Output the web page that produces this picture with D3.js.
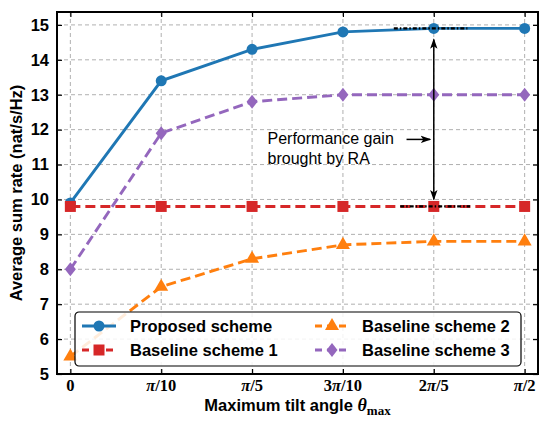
<!DOCTYPE html>
<html>
<head>
<meta charset="utf-8">
<script src="https://cdn.jsdelivr.net/npm/d3@7"></script>
<style>
  body { margin: 0; background: white; }
  svg { display: block; }
</style>
</head>
<body>
<div id="chart"></div>
<script>
// --- --- --- Data --- --- ---
const tickLabels = ["0", "π/10", "π/5", "3π/10", "2π/5", "π/2"];
const proposed  = [9.9, 13.4, 14.3, 14.8, 14.9, 14.9];
const baseline1 = [9.8, 9.8, 9.8, 9.8, 9.8, 9.8];
const baseline2 = [5.5, 7.5, 8.3, 8.7, 8.8, 8.8];
const baseline3 = [8.0, 11.9, 12.8, 13.0, 13.0, 13.0];
const yTicks = [5, 6, 7, 8, 9, 10, 11, 12, 13, 14, 15];

const series = [
  { name: "Proposed scheme",   values: proposed,  color: "#1f77b4", dash: null,  marker: "circle" },
  { name: "Baseline scheme 1", values: baseline1, color: "#d62728", dash: "10,5", marker: "square" },
  { name: "Baseline scheme 2", values: baseline2, color: "#ff7f0e", dash: "10,5", marker: "triangle" },
  { name: "Baseline scheme 3", values: baseline3, color: "#9467bd", dash: "10,5", marker: "diamond" }
];

const W = 550, H = 427;
const margin = { top: 12, right: 12, bottom: 53, left: 57 };
const iw = W - margin.left - margin.right;
const ih = H - margin.top - margin.bottom;

const svg = d3.select("#chart").append("svg")
  .attr("width", W).attr("height", H);

const g = svg.append("g").attr("transform", `translate(${margin.left},${margin.top})`);

const x = d3.scaleLinear().domain([-0.147, 5.147]).range([0, iw]);
const y = d3.scaleLinear().domain([5, 15.37]).range([ih, 0]);

// grid
g.append("g").selectAll("line").data(d3.range(tickLabels.length)).join("line")
  .attr("x1", d => x(d)).attr("x2", d => x(d))
  .attr("y1", 0).attr("y2", ih)
  .attr("stroke", "#b0b0b0").attr("stroke-width", 1).attr("stroke-dasharray", "4,3");
g.append("g").selectAll("line").data(yTicks).join("line")
  .attr("x1", 0).attr("x2", iw)
  .attr("y1", d => y(d)).attr("y2", d => y(d))
  .attr("stroke", "#b0b0b0").attr("stroke-width", 1).attr("stroke-dasharray", "4,3");

// axes (ticks pointing inward on all sides)
const xAxis = g.append("g").attr("transform", `translate(0,${ih})`)
  .call(d3.axisBottom(x).tickValues(d3.range(6)).tickSize(-5).tickFormat(""));
const xAxisTop = g.append("g")
  .call(d3.axisTop(x).tickValues(d3.range(6)).tickSize(-5).tickFormat(""));
const yAxis = g.append("g")
  .call(d3.axisLeft(y).tickValues(yTicks).tickSize(-5).tickPadding(8).tickFormat(d3.format("d")));
const yAxisRight = g.append("g").attr("transform", `translate(${iw},0)`)
  .call(d3.axisRight(y).tickValues(yTicks).tickSize(-5).tickFormat(""));

[xAxis, xAxisTop, yAxis, yAxisRight].forEach(a => {
  a.select(".domain").remove();
  a.selectAll(".tick line").attr("stroke", "#000").attr("stroke-width", 1.2);
});
yAxis.selectAll(".tick text")
  .attr("font-family", "Liberation Sans, Arial, sans-serif")
  .attr("font-size", 16.5).attr("font-weight", "bold").attr("fill", "#000");

// x tick labels in math style
const xl = g.append("g").attr("font-family", "Liberation Serif, Times New Roman, serif")
  .attr("font-size", 16.5).attr("font-weight", "bold").attr("text-anchor", "middle");
tickLabels.forEach((t, i) => {
  const txt = xl.append("text").attr("x", x(i)).attr("y", ih + 17);
  t.split(/(π)/).filter(s => s.length).forEach(s => {
    txt.append("tspan").text(s).attr("font-style", s === "π" ? "italic" : null);
  });
});

// lines and markers
const line = d3.line().x((d, i) => x(i)).y(d => y(d));

function drawMarker(sel, type, color) {
  if (type === "circle") sel.append("circle").attr("r", 5.5).attr("fill", color);
  else if (type === "square") sel.append("rect").attr("x", -5.5).attr("y", -5.5).attr("width", 11).attr("height", 11).attr("fill", color);
  else if (type === "triangle") sel.append("path").attr("d", d3.symbol(d3.symbolTriangle, 85)()).attr("fill", color);
  else if (type === "diamond") sel.append("path").attr("d", "M0,-7L5.5,0L0,7L-5.5,0Z").attr("fill", color);
}

const defs = svg.append("defs");
defs.append("clipPath").attr("id", "plotclip")
  .append("rect").attr("width", iw).attr("height", ih);

const plot = g.append("g").attr("clip-path", "url(#plotclip)");

series.forEach(s => {
  plot.append("path").datum(s.values)
    .attr("d", line).attr("fill", "none")
    .attr("stroke", s.color).attr("stroke-width", 2.9)
    .attr("stroke-dasharray", s.dash);
  s.values.forEach((v, i) => {
    drawMarker(plot.append("g").attr("transform", `translate(${x(i)},${y(v)})`), s.marker, s.color);
  });
});

// annotation: dash-dot guides and double arrow
defs.append("marker").attr("id", "ahead").attr("viewBox", "0 0 10 10")
  .attr("refX", 9).attr("refY", 5).attr("markerWidth", 7).attr("markerHeight", 7)
  .attr("orient", "auto-start-reverse")
  .append("path").attr("d", "M0,1.5L10,5L0,8.5L2.5,5Z").attr("fill", "#000");

[[proposed[4], 3.56, 4.37], [baseline1[4], 3.63, 4.4]].forEach(([v, a, b]) => {
  plot.append("line")
    .attr("x1", x(a)).attr("x2", x(b)).attr("y1", y(v)).attr("y2", y(v))
    .attr("stroke", "#000").attr("stroke-width", 2.2).attr("stroke-dasharray", "4,2,1.5,2");
});

plot.append("line")
  .attr("x1", x(4)).attr("x2", x(4))
  .attr("y1", y(proposed[4]) + 11).attr("y2", y(baseline1[4]) - 7)
  .attr("stroke", "#000").attr("stroke-width", 1.5)
  .attr("marker-start", "url(#ahead)").attr("marker-end", "url(#ahead)");

const ann = g.append("g").attr("font-family", "Liberation Sans, Arial, sans-serif")
  .attr("font-size", 16).attr("fill", "#000");
ann.append("text").attr("x", x(2.17)).attr("y", y(11.6)).text("Performance gain");
ann.append("text").attr("x", x(2.17)).attr("y", y(11.02)).text("brought by RA");
g.append("line")
  .attr("x1", x(3.7)).attr("x2", x(3.96))
  .attr("y1", y(11.72)).attr("y2", y(11.72))
  .attr("stroke", "#000").attr("stroke-width", 1.5).attr("marker-end", "url(#ahead)");

// frame
g.append("rect").attr("width", iw).attr("height", ih)
  .attr("fill", "none").attr("stroke", "#000").attr("stroke-width", 2);

// legend
const leg = g.append("g").attr("transform", `translate(18,${ih - 62})`);
leg.append("rect").attr("width", 446).attr("height", 54).attr("rx", 4)
  .attr("fill", "rgba(255,255,255,0.85)").attr("stroke", "#000").attr("stroke-width", 1.2);
const legOrder = [series[0], series[2], series[1], series[3]];
legOrder.forEach((s, k) => {
  const col = k % 2, row = Math.floor(k / 2);
  const ox = col === 0 ? 7 : 240, oy = 14 + row * 24;
  const it = leg.append("g").attr("transform", `translate(${ox},${oy})`);
  it.append("line").attr("x1", 0).attr("x2", 34).attr("y1", 0).attr("y2", 0)
    .attr("stroke", s.color).attr("stroke-width", 2.9).attr("stroke-dasharray", s.dash ? "7,5" : null);
  drawMarker(it.append("g").attr("transform", "translate(17,0)"), s.marker, s.color);
  it.append("text").attr("x", col === 0 ? 48 : 47).attr("y", 6)
    .attr("font-family", "Liberation Sans, Arial, sans-serif")
    .attr("font-size", 16.5).attr("font-weight", "bold").text(s.name);
});

// axis titles
svg.append("text")
  .attr("transform", `translate(22,${margin.top + ih / 2}) rotate(-90)`)
  .attr("text-anchor", "middle")
  .attr("font-family", "Liberation Sans, Arial, sans-serif")
  .attr("font-size", 16.5).attr("font-weight", "bold")
  .text("Average sum rate (nat/s/Hz)");

const xt = svg.append("text")
  .attr("x", margin.left + iw / 2).attr("y", 411)
  .attr("text-anchor", "middle")
  .attr("font-family", "Liberation Sans, Arial, sans-serif")
  .attr("font-size", 16.5).attr("font-weight", "bold");
xt.append("tspan").text("Maximum tilt angle ");
xt.append("tspan").text("θ").attr("font-family", "Liberation Serif, serif").attr("font-style", "italic").attr("font-size", 18);
xt.append("tspan").text("max").attr("font-family", "Liberation Serif, serif").attr("font-size", 13).attr("dy", 4);
</script>
</body>
</html>
